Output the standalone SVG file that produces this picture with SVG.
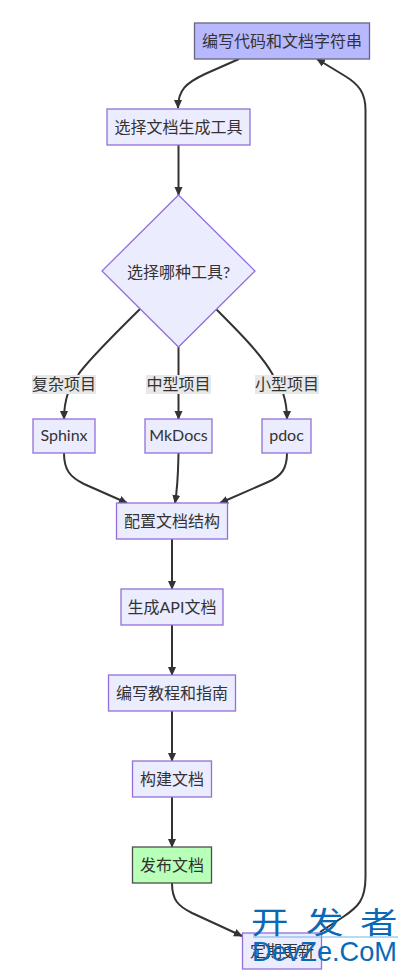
<svg xmlns="http://www.w3.org/2000/svg" width="408" height="972" viewBox="0 0 408 972">
<style>
text{font-family:"Lato","Noto Sans CJK SC",sans-serif;font-size:16px;fill:#333;text-anchor:middle}
.n{fill:#ECECFF;stroke:#9370DB;stroke-width:1.3}
.e{fill:none;stroke:#333;stroke-width:2}
.lb{fill:#e8e8e8;stroke:none}
.wm{fill:#0a69b5;text-anchor:start}
</style>
<defs>
<marker id="a" markerUnits="userSpaceOnUse" markerWidth="10" markerHeight="10" refX="8" refY="5" orient="auto"><path d="M0 1L9 5L0 9Z" fill="#333"/></marker>
</defs>
<g id="connectors">
<path class="e" marker-end="url(#a)" d="M239 59L205 74C186 83 178 90 178 108"/>
<path class="e" marker-end="url(#a)" d="M178.500 145V195"/>
<path class="e" d="M140 309C118 331 88 360 78 375"/>
<path class="e" marker-end="url(#a)" d="M68 393C65 402 64 408 64 419"/>
<path class="e" d="M178.500 347V375"/>
<path class="e" marker-end="url(#a)" d="M178.500 393V419"/>
<path class="e" d="M216 309C238 331 262 355 273 375"/>
<path class="e" marker-end="url(#a)" d="M283 393C286 402 287 408 287 419"/>
<path class="e" marker-end="url(#a)" d="M64 453C64 470 70 477 84 484L127 503"/>
<path class="e" marker-end="url(#a)" d="M178.500 453C178 475 178 485 175 503"/>
<path class="e" marker-end="url(#a)" d="M287 453C287 468 282 476 268 482L220 503"/>
<path class="e" marker-end="url(#a)" d="M172 539V589"/>
<path class="e" marker-end="url(#a)" d="M172 625V675"/>
<path class="e" marker-end="url(#a)" d="M172 711V761"/>
<path class="e" marker-end="url(#a)" d="M172 797V847"/>
<path class="e" marker-end="url(#a)" d="M172 883C172 900 178 906 192 913L242 936"/>
<path class="e" marker-end="url(#a)" d="M320 932L343 917C358 907 365.500 900 365.500 877V110C365.500 92 358 84 345 76L317 59"/>
</g>
<g id="n1"><rect x="194.500" y="23" width="175" height="36" fill="#b8b8ff" stroke="#66667f" stroke-width="1.300"/><text x="282" y="47">编写代码和文档字符串</text></g>
<g id="n2"><rect class="n" x="107" y="109" width="143" height="36"/><text x="178.500" y="133">选择文档生成工具</text></g>
<g id="n3"><polygon class="n" points="178.500,195 255,271 178.500,347 102,271"/><text x="178.500" y="278">选择哪种工具?</text></g>
<g id="l1"><rect class="lb" x="32" y="375" width="64" height="19"/><text x="64" y="390">复杂项目</text></g>
<g id="l2"><rect class="lb" x="146" y="375" width="65" height="19"/><text x="178.500" y="390">中型项目</text></g>
<g id="l3"><rect class="lb" x="255" y="375" width="64" height="19"/><text x="287" y="390">小型项目</text></g>
<g id="n4"><rect class="n" x="33" y="419" width="62" height="34"/><text x="64" y="441">Sphinx</text></g>
<g id="n5"><rect class="n" x="145" y="419" width="67" height="34"/><text x="178.500" y="441">MkDocs</text></g>
<g id="n6"><rect class="n" x="262" y="419" width="49" height="34"/><text x="286.500" y="441">pdoc</text></g>
<g id="n7"><rect class="n" x="116.500" y="503" width="111" height="36"/><text x="172" y="527">配置文档结构</text></g>
<g id="n8"><rect class="n" x="121" y="589" width="102" height="36"/><text x="172" y="613">生成API文档</text></g>
<g id="n9"><rect class="n" x="108.500" y="675" width="127" height="36"/><text x="172" y="699">编写教程和指南</text></g>
<g id="n10"><rect class="n" x="132.500" y="761" width="79" height="36"/><text x="172" y="785">构建文档</text></g>
<g id="n11"><rect x="132.500" y="847" width="79" height="36" fill="#b8ffb8" stroke="#4d4d4d" stroke-width="1.300"/><text x="172" y="871">发布文档</text></g>
<g id="n12"><rect class="n" x="242.500" y="933" width="79" height="36"/><text x="282" y="957">定期更新</text></g>
<g id="watermark">
<path d="M253 937H398" stroke="#6fb6e8" stroke-width="1" fill="none"/>
<text class="wm" transform="translate(251 933) scale(1.25 1)" style="font-size:30px">开</text>
<text class="wm" transform="translate(306 933) scale(1.25 1)" style="font-size:30px">发</text>
<text class="wm" transform="translate(360 933) scale(1.25 1)" style="font-size:30px">者</text>
<text class="wm" x="252" y="961" style="font-size:28px;font-family:'Liberation Sans',sans-serif" textLength="145" lengthAdjust="spacingAndGlyphs">DevZe.CoM</text>
</g>
</svg>
